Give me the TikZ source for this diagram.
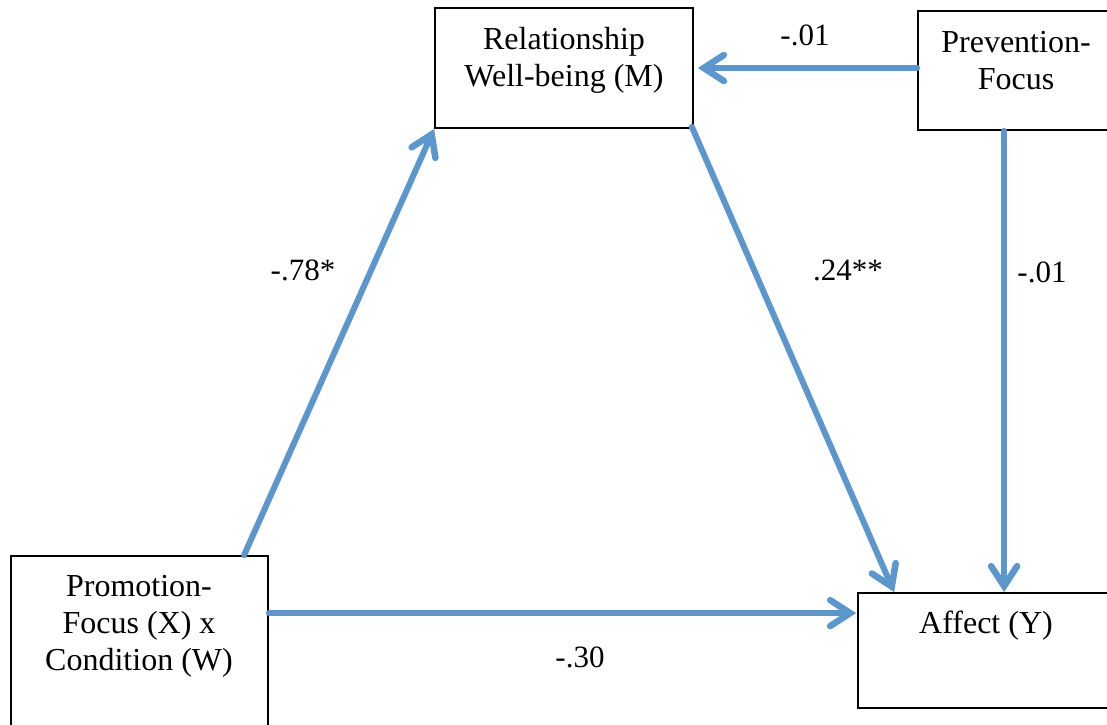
\documentclass[tikz,border=0pt]{standalone}
\usepackage{fontspec}
\setmainfont{Liberation Serif}
\usetikzlibrary{arrows.meta,calc}
\definecolor{arrowblue}{RGB}{91,150,205}
\tikzset{
  box/.style={draw=black, line width=1.8pt, fill=none, inner sep=0pt},
  txt/.style={font=\fontsize{32}{37}\selectfont, align=center, inner sep=0pt},
  coef/.style={font=\fontsize{31}{37}\selectfont, inner sep=0pt},
  conn/.style={draw=arrowblue, line width=6pt, line cap=round, line join=round,
    -{Straight Barb[length=20pt,width=26pt,line width=6.5pt,line cap=round,line join=miter]}},
}
\begin{document}
\begin{tikzpicture}[x=1pt,y=-1pt]
\useasboundingbox (0,0) rectangle (1107,724);
\clip (0,0) rectangle (1107,724);
\fill[white] (0,0) rectangle (1107,724);
% boxes
\node[box, minimum width=258pt, minimum height=120pt] (M) at (564,68) {};
\node[box, minimum width=202pt, minimum height=119pt] (W) at (1019,70.5) {};
\node[box, minimum width=257pt, minimum height=184pt] (X) at (139.5,648) {};
\node[box, minimum width=262pt, minimum height=115pt] (Y) at (989,650.5) {};
% box texts
\node[txt] (Mt) at (564,60) {Relationship\\Well-being (M)};
\node[txt] (Wt) at (1016,61) {Prevention-\\Focus};
\node[txt] (Xt) at (139,626) {Promotion-\\Focus (X) x\\Condition (W)};
\node[txt] (Yt) at (986,626) {Affect (Y)};
% connectors
\coordinate (xs) at ($(X.north west)+(234,0)$);
\draw[conn] (xs) -- (M.south west);
\coordinate (ye) at ($(Y.north west)+(37,0)$);
\draw[conn] ($(M.south east)+(-2,-2)$) -- (ye);
\draw[conn, shorten >=4pt] (W.west |- M.east) -- (M.east);
\coordinate (ws) at ($(W.south west)+(87,0)$);
\draw[conn] (ws) -- (ws |- Y.north);
\coordinate (xe) at ($(X.north east)+(0,58)$);
\draw[conn, shorten >=1pt] (xe) -- (xe -| Y.west);
% coefficients
\node[coef] (c1) at (805,35) {-.01};
\node[coef] (c2) at (303,270) {-.78*};
\node[coef] (c3) at (848,270) {.24**};
\node[coef] (c4) at (1042,272) {-.01};
\node[coef] (c5) at (580,657) {-.30};
\end{tikzpicture}
\end{document}
